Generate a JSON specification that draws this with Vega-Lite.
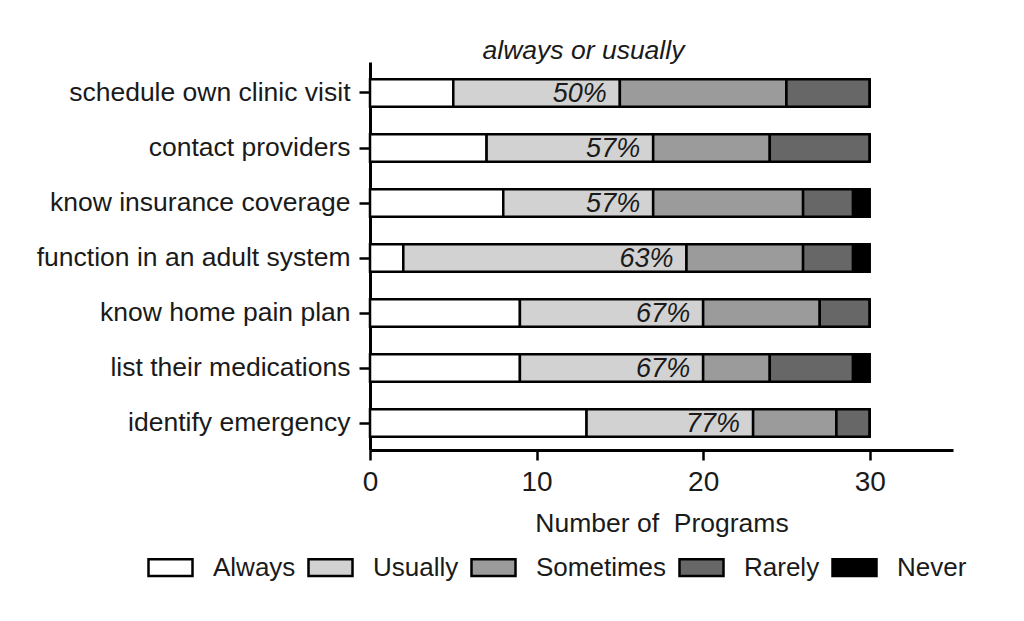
{
  "$schema": "https://vega.github.io/schema/vega-lite/v6.json",
  "width": 583,
  "height": 388,
  "autosize": "none",
  "padding": {"left": 370, "top": 62, "right": 71, "bottom": 171},
  "background": "white",
  "config": {
    "font": "Liberation Sans",
    "view": {"stroke": null},
    "axis": {"grid": false, "domainColor": "black", "tickColor": "black", "domainWidth": 2.5, "tickWidth": 2.5, "labelColor": "#1a1a1a", "titleColor": "#1a1a1a", "labelFont": "Liberation Sans", "titleFont": "Liberation Sans", "titleFontWeight": "normal", "labelLimit": 400}
  },
  "title": {"text": "always or usually", "font": "Liberation Sans", "fontSize": 26.5, "fontStyle": "italic", "fontWeight": "normal", "color": "#1a1a1a", "anchor": "middle", "dx": -78, "offset": -2},
  "datasets": {
    "counts": [
      {"item": "schedule own clinic visit", "response": "Always", "level": 1, "n": 5},
      {"item": "schedule own clinic visit", "response": "Usually", "level": 2, "n": 10},
      {"item": "schedule own clinic visit", "response": "Sometimes", "level": 3, "n": 10},
      {"item": "schedule own clinic visit", "response": "Rarely", "level": 4, "n": 5},
      {"item": "schedule own clinic visit", "response": "Never", "level": 5, "n": 0},
      {"item": "contact providers", "response": "Always", "level": 1, "n": 7},
      {"item": "contact providers", "response": "Usually", "level": 2, "n": 10},
      {"item": "contact providers", "response": "Sometimes", "level": 3, "n": 7},
      {"item": "contact providers", "response": "Rarely", "level": 4, "n": 6},
      {"item": "contact providers", "response": "Never", "level": 5, "n": 0},
      {"item": "know insurance coverage", "response": "Always", "level": 1, "n": 8},
      {"item": "know insurance coverage", "response": "Usually", "level": 2, "n": 9},
      {"item": "know insurance coverage", "response": "Sometimes", "level": 3, "n": 9},
      {"item": "know insurance coverage", "response": "Rarely", "level": 4, "n": 3},
      {"item": "know insurance coverage", "response": "Never", "level": 5, "n": 1},
      {"item": "function in an adult system", "response": "Always", "level": 1, "n": 2},
      {"item": "function in an adult system", "response": "Usually", "level": 2, "n": 17},
      {"item": "function in an adult system", "response": "Sometimes", "level": 3, "n": 7},
      {"item": "function in an adult system", "response": "Rarely", "level": 4, "n": 3},
      {"item": "function in an adult system", "response": "Never", "level": 5, "n": 1},
      {"item": "know home pain plan", "response": "Always", "level": 1, "n": 9},
      {"item": "know home pain plan", "response": "Usually", "level": 2, "n": 11},
      {"item": "know home pain plan", "response": "Sometimes", "level": 3, "n": 7},
      {"item": "know home pain plan", "response": "Rarely", "level": 4, "n": 3},
      {"item": "know home pain plan", "response": "Never", "level": 5, "n": 0},
      {"item": "list their medications", "response": "Always", "level": 1, "n": 9},
      {"item": "list their medications", "response": "Usually", "level": 2, "n": 11},
      {"item": "list their medications", "response": "Sometimes", "level": 3, "n": 4},
      {"item": "list their medications", "response": "Rarely", "level": 4, "n": 5},
      {"item": "list their medications", "response": "Never", "level": 5, "n": 1},
      {"item": "identify emergency", "response": "Always", "level": 1, "n": 13},
      {"item": "identify emergency", "response": "Usually", "level": 2, "n": 10},
      {"item": "identify emergency", "response": "Sometimes", "level": 3, "n": 5},
      {"item": "identify emergency", "response": "Rarely", "level": 4, "n": 2},
      {"item": "identify emergency", "response": "Never", "level": 5, "n": 0}
    ],
    "pct": [
      {"item": "schedule own clinic visit", "au": 15, "label": "50%"},
      {"item": "contact providers", "au": 17, "label": "57%"},
      {"item": "know insurance coverage", "au": 17, "label": "57%"},
      {"item": "function in an adult system", "au": 19, "label": "63%"},
      {"item": "know home pain plan", "au": 20, "label": "67%"},
      {"item": "list their medications", "au": 20, "label": "67%"},
      {"item": "identify emergency", "au": 23, "label": "77%"}
    ]
  },
  "encoding": {
    "y": {
      "field": "item", "type": "nominal",
      "sort": ["schedule own clinic visit", "contact providers", "know insurance coverage", "function in an adult system", "know home pain plan", "list their medications", "identify emergency"],
      "scale": {"paddingInner": 0.5, "paddingOuter": 0.277, "align": 0.566},
      "axis": {"title": null, "labelFontSize": 26.5, "tickSize": 11, "labelPadding": 9, "domainWidth": 3}
    }
  },
  "layer": [
    {
      "data": {"name": "counts"},
      "mark": {"type": "bar", "stroke": "black", "strokeWidth": 2.5},
      "encoding": {
        "x": {
          "field": "n", "type": "quantitative", "stack": "zero",
          "scale": {"domain": [0, 35], "nice": false},
          "axis": {"title": "Number of \u00a0Programs", "values": [0, 10, 20, 30], "labelFontSize": 28, "titleFontSize": 26.5, "tickSize": 10, "labelPadding": 8, "titlePadding": 14, "labelFlush": false, "domainWidth": 3}
        },
        "color": {
          "field": "response", "type": "nominal",
          "scale": {"domain": ["Always", "Usually", "Sometimes", "Rarely", "Never"], "range": ["#ffffff", "#d2d2d2", "#9b9b9b", "#676767", "#000000"]},
          "legend": {
            "title": null, "orient": "none", "direction": "horizontal", "legendX": -223, "legendY": 482,
            "symbolType": "M-1,-0.38H1V0.38H-1Z", "symbolSize": 1936, "symbolStrokeColor": "black", "symbolStrokeWidth": 2.5,
            "labelFontSize": 26, "labelColor": "#1a1a1a", "labelOffset": 19, "columnPadding": 7, "labelFont": "Liberation Sans", "labelLimit": 300
          }
        },
        "order": {"field": "level", "type": "quantitative"}
      }
    },
    {
      "data": {"name": "pct"},
      "mark": {"type": "text", "align": "right", "baseline": "middle", "dx": -13, "dy": 1, "fontSize": 27, "fontStyle": "italic", "color": "#1a1a1a"},
      "encoding": {
        "x": {"field": "au", "type": "quantitative"},
        "text": {"field": "label", "type": "nominal"}
      }
    }
  ]
}
